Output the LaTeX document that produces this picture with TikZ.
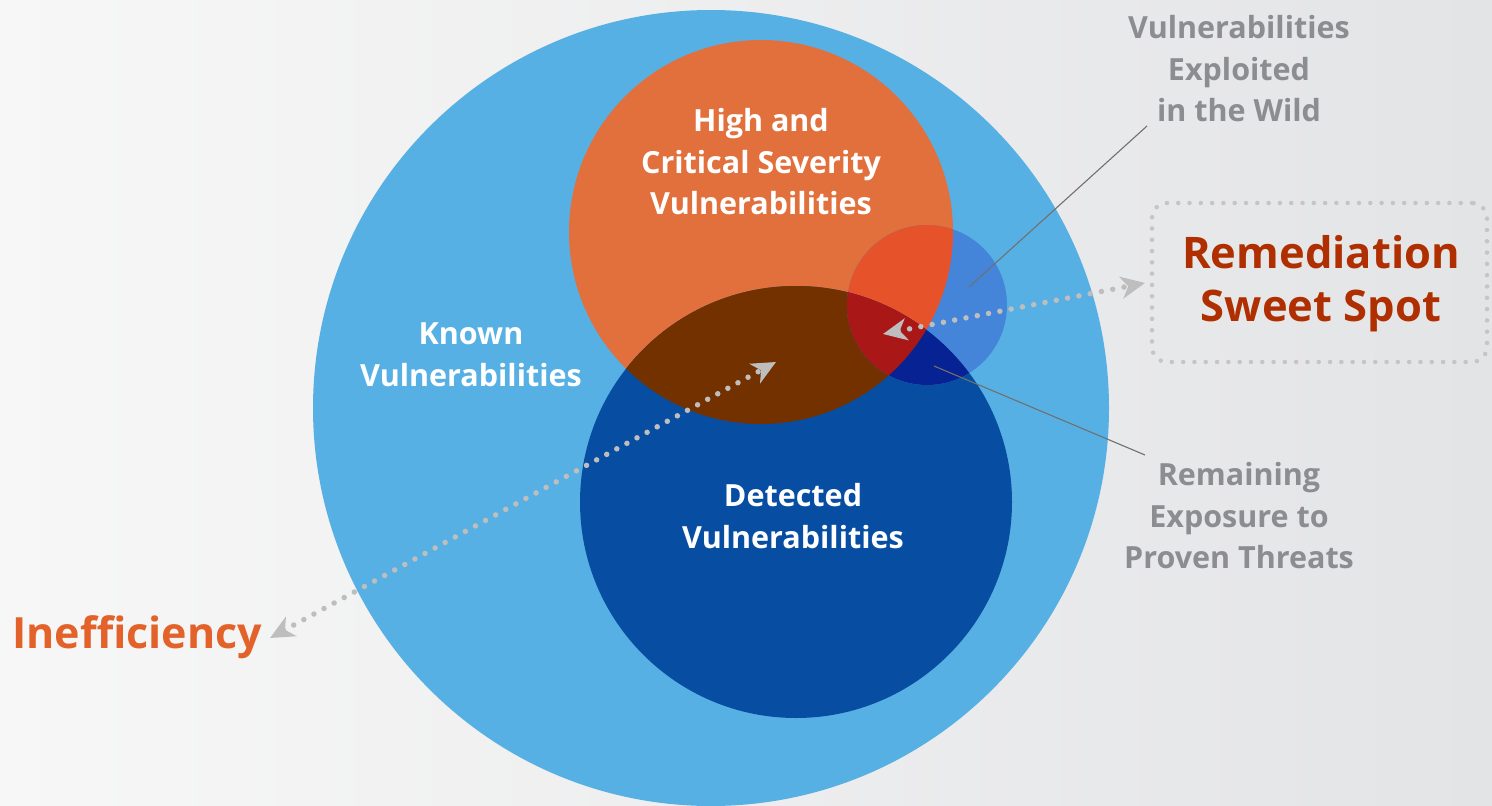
\documentclass[tikz,border=0pt]{standalone}
\usepackage{fontspec}
\setmainfont{Open Sans}
\usetikzlibrary{arrows.meta}
\definecolor{bgA}{HTML}{F7F7F7}
\definecolor{bgB}{HTML}{E3E4E6}
\definecolor{knownc}{HTML}{57B0E3}
\definecolor{highc}{HTML}{E2703D}
\definecolor{detc}{HTML}{074EA3}
\definecolor{brownc}{HTML}{733100}
\definecolor{smallc}{HTML}{4485DA}
\definecolor{smallhigh}{HTML}{E6532A}
\definecolor{smalldet}{HTML}{062293}
\definecolor{smallbrown}{HTML}{AA1717}
\definecolor{greytext}{HTML}{8C8D91}
\definecolor{remc}{HTML}{B02F00}
\definecolor{ineffc}{HTML}{E2622A}
\definecolor{dotc}{HTML}{BEBEBE}
\definecolor{leadc}{HTML}{707070}
\begin{document}
\begin{tikzpicture}[x=1pt,y=-1pt,
  whitelab/.style={text=white,align=center,font=\fontsize{30.5}{41.5}\selectfont\bfseries},
  greylab/.style={text=greytext,align=center,font=\fontsize{30.5}{41.5}\selectfont\bfseries},
  dotline/.style={draw=dotc,line width=5.5pt,line cap=round,dash pattern=on 0pt off 11.5pt},
  dotarrow/.style={dotline,{Stealth[length=24pt,width=22pt,inset=7pt,fill=dotc,color=dotc]}-{Stealth[length=24pt,width=22pt,inset=7pt,fill=dotc,color=dotc]}},
  leader/.style={draw=leadc,line width=1.1pt}]
\useasboundingbox (0,0) rectangle (1492,806);
\shade[left color=bgA,right color=bgB] (0,0) rectangle (1492,806);
% circles
\fill[knownc] (711,408) circle[radius=398pt];
\fill[highc] (761,232) circle[radius=192pt];
\fill[detc] (796,502) circle[radius=216pt];
\begin{scope}
  \clip (761,232) circle[radius=192pt];
  \fill[brownc] (796,502) circle[radius=216pt];
\end{scope}
\fill[smallc] (927,305) circle[radius=80pt];
\begin{scope}
  \clip (927,305) circle[radius=80pt];
  \fill[smallhigh] (761,232) circle[radius=192pt];
  \fill[smalldet] (796,502) circle[radius=216pt];
  \clip (761,232) circle[radius=192pt];
  \fill[smallbrown] (796,502) circle[radius=216pt];
\end{scope}
% labels
\node[whitelab] (known) at (471,355) {Known\\Vulnerabilities};
\node[whitelab] (high) at (761,162) {High and\\Critical Severity\\Vulnerabilities};
\node[whitelab] (det) at (793,516) {Detected\\Vulnerabilities};
\node[greylab] (wild) at (1239,69) {Vulnerabilities\\Exploited\\in the Wild};
\node[greylab] (remain) at (1239,516) {Remaining\\Exposure to\\Proven Threats};
\node[text=remc,align=center,font=\fontsize{43.5}{53}\selectfont\bfseries] (rem) at (1321,284) {Remediation\\Sweet Spot};
\node[text=ineffc,font=\fontsize{43}{50}\selectfont\bfseries] (ineff) at (137,637) {Inefficiency};
% dotted box
\node[draw=dotc!90!white,line width=4.5pt,line cap=round,dash pattern=on 0pt off 11.3pt,rounded corners=15pt,minimum width=335pt,minimum height=159pt] (box) at (1319.5,282.5) {};
% arrow ends
\coordinate (a1) at (270,638);
\coordinate (a2) at (776,362);
\coordinate (b1) at (883,334);
\coordinate (b2) at (1145,283);
\draw[dotarrow] (a1) -- (a2);
\draw[dotarrow] (b1) -- (b2);
% leaders
\coordinate (l1a) at (969,287);
\coordinate (l1b) at (1147,126);
\coordinate (l2a) at (934,366);
\coordinate (l2b) at (1145,455);
\draw[leader] (l1a) -- (l1b);
\draw[leader] (l2a) -- (l2b);
\end{tikzpicture}
\end{document}
